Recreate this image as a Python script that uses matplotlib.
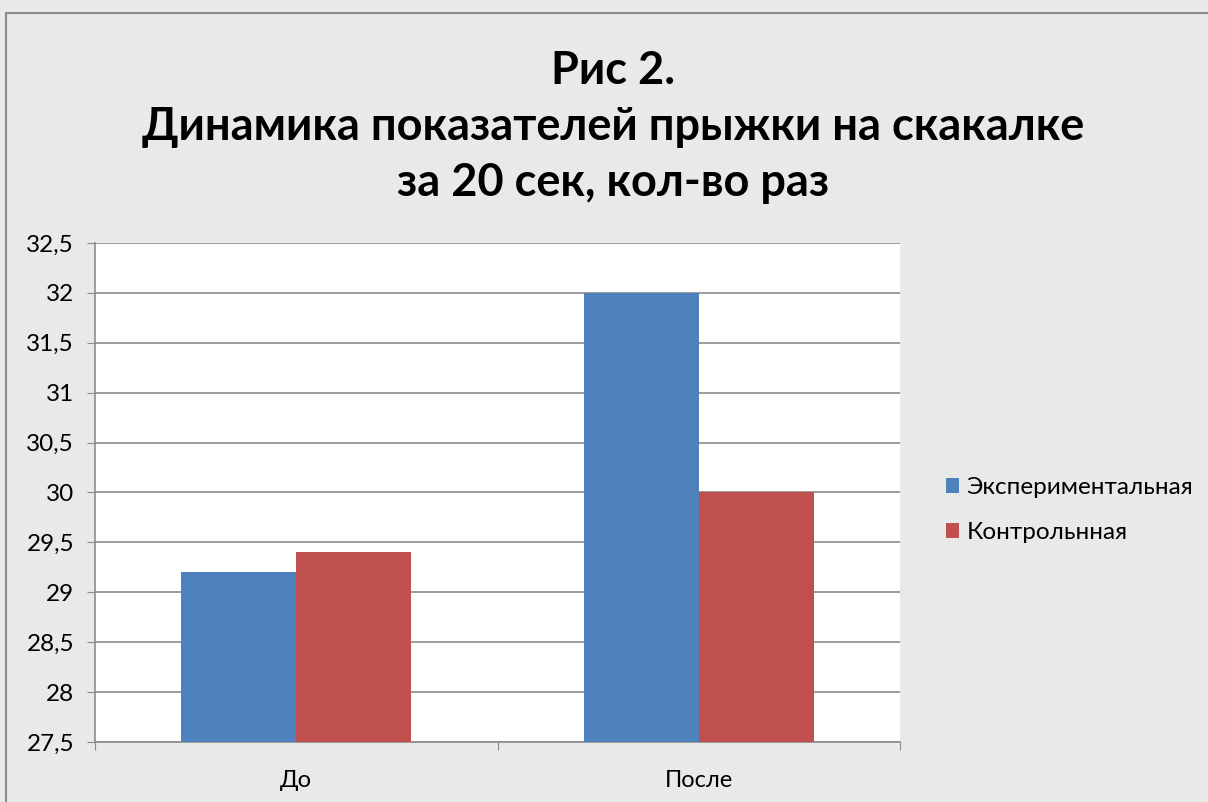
import matplotlib
matplotlib.use("Agg")
import matplotlib.pyplot as plt
from matplotlib.patches import Rectangle
import numpy as np

categories = ["До", "После"]
series_names = ["Экспериментальная", "Контрольнная"]
exp_values = [29.2, 32.0]
ctrl_values = [29.4, 30.0]
yticks = [27.5, 28, 28.5, 29, 29.5, 30, 30.5, 31, 31.5, 32, 32.5]
title = "Рис 2.\nДинамика показателей прыжки на скакалке\nза 20 сек, кол-во раз"

colors = ["#4f81bd", "#c0504d"]
plt.rcParams['font.family'] = ['Lato', 'DejaVu Sans']

fig = plt.figure(figsize=(12.08, 8.02), dpi=100)
fig.patch.set_facecolor("#e9e9e9")
# chart border
fig.add_artist(Rectangle((6/1208, -0.05), 1.2, (802-13)/802 + 0.05, transform=fig.transFigure,
                         fill=False, edgecolor="#8a8a8a", linewidth=1.5))

ax = fig.add_axes([95/1208, 60/802, (900-95)/1208, (742-243)/802])
ax.set_facecolor("white")

x = np.arange(len(categories))
w = 1/3.5
ax.bar(x - w/2, exp_values, width=w, color=colors[0], label=series_names[0], zorder=3)
ax.bar(x + w/2, ctrl_values, width=w, color=colors[1], label=series_names[1], zorder=3)

ax.set_ylim(27.5, 32.5)
ax.set_xlim(-0.5, 1.5)
ax.set_yticks(yticks)
ax.set_yticklabels([f"{t:g}".replace(".", ",") for t in yticks], fontsize=17.5)
ax.yaxis.grid(True, color="#8c8c8c", linewidth=1.2, zorder=0)
ax.set_axisbelow(True)

ax.set_xticks([-0.5, 0.5, 1.5])
ax.set_xticklabels([])
ax.set_xticks(x, minor=True)
ax.set_xticklabels(categories, minor=True, fontsize=17)
ax.tick_params(axis='x', which='minor', length=0, pad=20)
ax.tick_params(axis='x', which='major', length=6, color="#8c8c8c", direction='out')
ax.tick_params(axis='y', length=6, color="#8c8c8c", direction='out', pad=9)

for s in ["top", "right"]:
    ax.spines[s].set_visible(False)
for s in ["left", "bottom"]:
    ax.spines[s].set_color("#8c8c8c")
    ax.spines[s].set_linewidth(1.2)

fig.text(613/1208, (802-127)/802, title, ha="center", va="center", fontsize=32.5,
         fontweight="bold", linespacing=1.4)

leg = fig.legend(loc="center left", bbox_to_anchor=(924/1208, (802-510)/802), frameon=False,
                 fontsize=17.5, handlelength=0.55, handleheight=0.55, handletextpad=0.3,
                 labelspacing=1.0)

fig.savefig("out.png", dpi=100, facecolor=fig.get_facecolor())
